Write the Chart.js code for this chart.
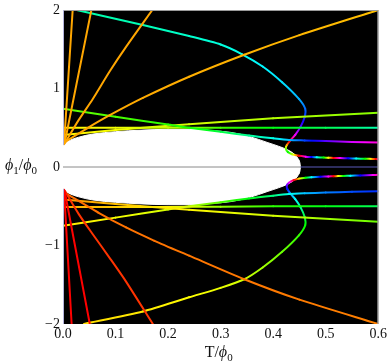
<!DOCTYPE html>
<html>
<head>
<meta charset="utf-8">
<script src="https://cdn.jsdelivr.net/npm/chart.js@4.4.1/dist/chart.umd.min.js"></script>
<style>
  html, body { margin: 0; padding: 0; background: #fff; }
  canvas { display: block; }
</style>
</head>
<body>
<canvas id="chart" width="390" height="363"></canvas>
<script>
// curves: [T/phi0, phi1/phi0, hue]
const orangeUp1 = [[0.002, 0.29, 39], [0.0184, 2.0, 39]];
const orangeUp2 = [[0.003, 0.30, 39], [0.054, 2.0, 39]];
const orangeUp3 = [[0.004, 0.31, 39], [0.03, 0.6, 39], [0.057, 0.87, 39], [0.089, 1.22, 39], [0.12, 1.53, 39], [0.17, 2.0, 39]];
const orangeUp4 = [[0.004, 0.32, 39], [0.045, 0.49, 39], [0.089, 0.66, 40], [0.152, 0.88, 40], [0.24, 1.15, 41], [0.345, 1.43, 42], [0.45, 1.68, 43], [0.6, 2.0, 45]];
const greenUp = [[0, 0.742, 95], [0.1, 0.64, 103], [0.2, 0.54, 110], [0.24, 0.5, 115], [0.3, 0.45, 135], [0.354, 0.40, 155], [0.4, 0.365, 175], [0.43, 0.345, 195], [0.46, 0.338, 225], [0.5, 0.33, 260], [0.55, 0.32, 290], [0.6, 0.313, 310]];
const flatUp = [[0, 0.5, 58], [0.1, 0.5, 63], [0.2, 0.5, 75], [0.3, 0.5, 105], [0.4, 0.5, 125], [0.5, 0.5, 140], [0.6, 0.5, 160]];
const riseUp = [[0, 0.406, 58], [0.1, 0.47, 62], [0.24, 0.545, 70], [0.4, 0.62, 78], [0.6, 0.69, 88]];
const upperArc = [
  [0.026, 2.0, 160], [0.152, 1.81, 163], [0.24, 1.668, 168], [0.3, 1.56, 172], [0.341, 1.436, 176],
  [0.38, 1.28, 182], [0.417, 1.08, 187], [0.449, 0.868, 198], [0.461, 0.742, 215], [0.46, 0.637, 232],
  [0.452, 0.511, 260], [0.442, 0.41, 295], [0.433, 0.34, 340], [0.426, 0.28, 395], [0.424, 0.235, 450],
  [0.428, 0.19, 480], [0.436, 0.162, 440], [0.449, 0.142, 360], [0.462, 0.132, 300], [0.473, 0.127, 240],
  [0.483, 0.123, 180], [0.496, 0.12, 120], [0.505, 0.118, 60], [0.515, 0.116, 0], [0.527, 0.114, -60],
  [0.543, 0.111, -120], [0.558, 0.108, -180], [0.575, 0.105, -240], [0.59, 0.102, -330], [0.6, 0.1, -390]
];

const redLow1 = [[0.002, -0.29, 0], [0.0164, -2.0, 0]];
const redLow2 = [[0.003, -0.30, 0], [0.051, -2.0, 0]];
const redLow3 = [[0.004, -0.31, 12], [0.03, -0.6, 12], [0.057, -0.86, 12], [0.089, -1.16, 12], [0.12, -1.46, 12], [0.171, -2.0, 12]];
const orangeLow = [[0.004, -0.33, 26], [0.067, -0.58, 26], [0.12, -0.77, 27], [0.174, -0.94, 27], [0.24, -1.13, 28], [0.345, -1.43, 28], [0.45, -1.69, 29], [0.6, -2.0, 30]];
const flatLow = [[0, -0.51, 40], [0.1, -0.51, 48], [0.2, -0.51, 57], [0.3, -0.505, 85], [0.4, -0.5, 110], [0.5, -0.5, 125], [0.6, -0.5, 140]];
const descLow = [[0, -0.414, 35], [0.1, -0.47, 45], [0.24, -0.545, 58], [0.4, -0.62, 70], [0.6, -0.696, 95]];
const greenLow = [[0, -0.75, 55], [0.1, -0.645, 62], [0.2, -0.54, 70], [0.24, -0.5, 78], [0.3, -0.45, 100], [0.354, -0.40, 125], [0.4, -0.365, 150], [0.43, -0.345, 175], [0.46, -0.335, 195], [0.5, -0.325, 210], [0.55, -0.316, 222], [0.6, -0.31, 230]];
const lowerArc = [
  [0.04, -2.0, 52], [0.152, -1.84, 55], [0.24, -1.66, 60], [0.3, -1.54, 65], [0.345, -1.43, 72],
  [0.38, -1.28, 82], [0.417, -1.08, 95], [0.449, -0.87, 108], [0.461, -0.742, 120], [0.46, -0.637, 135],
  [0.452, -0.511, 158], [0.442, -0.41, 180], [0.433, -0.34, 205], [0.427, -0.28, 235], [0.426, -0.235, 260],
  [0.43, -0.2, 290], [0.439, -0.168, 350], [0.449, -0.148, 410], [0.462, -0.136, 480], [0.473, -0.13, 540],
  [0.49, -0.124, 600], [0.505, -0.12, 660], [0.515, -0.118, 720], [0.524, -0.116, 780], [0.534, -0.114, 840],
  [0.547, -0.111, 900], [0.566, -0.107, 960], [0.59, -0.102, 1020], [0.6, -0.1, 1040]
];

// white region boundary
const holeUpper = [[0, 0.28], [0.01, 0.33], [0.03, 0.38], [0.057, 0.42], [0.1, 0.45], [0.15, 0.47], [0.2, 0.48], [0.24, 0.48], [0.28, 0.465], [0.32, 0.44], [0.354, 0.39], [0.39, 0.31], [0.41, 0.265], [0.43, 0.21], [0.44, 0.165], [0.447, 0.11], [0.451, 0.05], [0.452, 0]];
const holeLower = [[0, -0.28], [0.01, -0.33], [0.03, -0.38], [0.057, -0.42], [0.1, -0.45], [0.15, -0.47], [0.2, -0.48], [0.24, -0.48], [0.28, -0.465], [0.32, -0.44], [0.354, -0.39], [0.39, -0.31], [0.41, -0.265], [0.43, -0.21], [0.44, -0.165], [0.447, -0.11], [0.451, -0.05], [0.452, 0]];
const zeroLineT = [0, 0.452, 0.6];

const xTickValues = [0, 0.1, 0.2, 0.3, 0.4, 0.5, 0.6];
const yTickValues = [-2, -1, 0, 1, 2];
const xTitleParts = [{ text: 'T' }, { text: '/' }, { text: 'ϕ', italic: true }, { text: '0', sub: true }];
const yTitleParts = [{ text: 'ϕ', italic: true }, { text: '1', sub: true }, { text: '/' }, { text: 'ϕ', italic: true }, { text: '0', sub: true }];

const SERIF = "'Liberation Serif', 'DejaVu Serif', serif";
Chart.defaults.font.family = SERIF;
Chart.defaults.font.size = 14;
Chart.defaults.color = '#111';

function hueColor(h) {
  const hh = ((h % 360) + 360) % 360;
  return `hsl(${hh.toFixed(1)}, 100%, 50%)`;
}

// rainbow segments: gradient between the hues of the two end points
function hueSegment(ctx) {
  const ds = ctx.chart.data.datasets[ctx.datasetIndex];
  if (!ds.hues) return undefined;
  const h0 = ds.hues[ctx.p0DataIndex];
  const h1 = ds.hues[ctx.p1DataIndex];
  if (h0 === h1) return hueColor(h0);
  const g = ctx.chart.ctx.createLinearGradient(ctx.p0.x, ctx.p0.y, ctx.p1.x, ctx.p1.y);
  const n = Math.max(1, Math.ceil(Math.abs(h1 - h0) / 15));
  for (let i = 0; i <= n; i++) g.addColorStop(i / n, hueColor(h0 + (h1 - h0) * i / n));
  return g;
}

function curve(rows) {
  return {
    data: rows.map(r => ({ x: r[0], y: r[1] })),
    hues: rows.map(r => r[2]),
    borderColor: hueColor(rows[0][2]),
    borderWidth: 2,
    borderCapStyle: 'round',
    borderJoinStyle: 'round',
    pointRadius: 0,
    tension: 0.25,
    fill: false,
    order: 0,
    segment: { borderColor: hueSegment }
  };
}

function hole(rows) {
  return {
    data: rows.map(r => ({ x: r[0], y: r[1] })),
    borderColor: '#fff',
    borderWidth: 1,
    backgroundColor: '#fff',
    pointRadius: 0,
    cubicInterpolationMode: 'monotone',
    fill: 'origin',
    order: 10
  };
}

const datasets = [
  hole(holeUpper),
  hole(holeLower),
  {
    data: [{ x: zeroLineT[0], y: 0 }, { x: zeroLineT[1], y: 0 }],
    borderColor: '#8a8a8a', borderWidth: 1, pointRadius: 0, fill: false, order: 9
  },
  {
    data: [{ x: zeroLineT[1], y: 0 }, { x: zeroLineT[2], y: 0 }],
    borderColor: '#3d3d7c', borderWidth: 1.5, pointRadius: 0, fill: false, order: 9
  },
  curve(orangeUp1), curve(orangeUp2), curve(orangeUp3), curve(orangeUp4),
  curve(greenUp), curve(flatUp), curve(riseUp), curve(upperArc),
  curve(redLow1), curve(redLow2), curve(redLow3), curve(orangeLow),
  curve(flatLow), curve(descLow), curve(greenLow), curve(lowerArc)
];

const plotBackground = {
  id: 'plotBackground',
  beforeDraw(chart) {
    const { ctx, chartArea: a } = chart;
    ctx.save();
    ctx.fillStyle = '#000';
    ctx.fillRect(a.left, a.top, a.right - a.left, a.bottom - a.top);
    ctx.restore();
  },
  afterDatasetsDraw(chart) {
    const { ctx, chartArea: a, scales } = chart;
    ctx.save();
    ctx.lineWidth = 1;
    ctx.strokeStyle = '#9a9a9a';
    ctx.beginPath();
    ctx.moveTo(a.left, a.top + 0.5);
    ctx.lineTo(a.right - 0.5, a.top + 0.5);
    ctx.lineTo(a.right - 0.5, a.bottom);
    ctx.stroke();
    // left edge, only outside the white region
    ctx.strokeStyle = '#b4b4dc';
    ctx.beginPath();
    ctx.moveTo(a.left + 0.5, a.top);
    ctx.lineTo(a.left + 0.5, scales.y.getPixelForValue(holeUpper[0][1]));
    ctx.moveTo(a.left + 0.5, scales.y.getPixelForValue(holeLower[0][1]));
    ctx.lineTo(a.left + 0.5, a.bottom);
    ctx.stroke();
    ctx.restore();
  },
  afterDraw(chart) {
    const { ctx, chartArea: a } = chart;
    ctx.save();
    ctx.fillStyle = '#111';
    drawRich(ctx, xTitleParts, (a.left + a.right) / 2 - 2, 357, 'center');
    drawRich(ctx, yTitleParts, 5, 170, 'left');
    ctx.restore();
  }
};

function drawRich(ctx, parts, x, y, align) {
  const fontFor = p => `${p.italic ? 'italic ' : ''}${p.sub ? 11 : 16}px ${SERIF}`;
  let total = 0;
  parts.forEach(p => { ctx.font = fontFor(p); total += ctx.measureText(p.text).width; });
  let cx = align === 'center' ? x - total / 2 : x;
  ctx.textAlign = 'left';
  ctx.textBaseline = 'alphabetic';
  parts.forEach(p => {
    ctx.font = fontFor(p);
    ctx.fillText(p.text, cx, y + (p.sub ? 4 : 0));
    cx += ctx.measureText(p.text).width;
  });
}

new Chart(document.getElementById('chart'), {
  type: 'line',
  data: { datasets },
  options: {
    responsive: false,
    animation: false,
    events: [],
    layout: { padding: { top: 7, right: 10, left: 0, bottom: 0 } },
    plugins: { legend: { display: false }, tooltip: { enabled: false } },
    scales: {
      x: {
        type: 'linear',
        min: 0, max: 0.6,
        grid: { display: false, drawTicks: false },
        border: { display: false },
        afterBuildTicks: s => { s.ticks = xTickValues.map(v => ({ value: v })); },
        afterFit: s => { s.height = 39; },
        ticks: { padding: 3, maxRotation: 0, font: { size: 14, lineHeight: 1 }, callback: v => v.toFixed(1) }
      },
      y: {
        type: 'linear',
        min: -2, max: 2,
        grid: { display: false, drawTicks: false },
        border: { display: false },
        afterBuildTicks: s => { s.ticks = yTickValues.map(v => ({ value: v })); },
        afterFit: s => { s.width = 63; },
        ticks: { padding: 3, font: { size: 14, lineHeight: 1 }, callback: v => (v < 0 ? '\u2212' + Math.abs(v) : String(v)) }
      }
    }
  },
  plugins: [plotBackground]
});
</script>
</body>
</html>
